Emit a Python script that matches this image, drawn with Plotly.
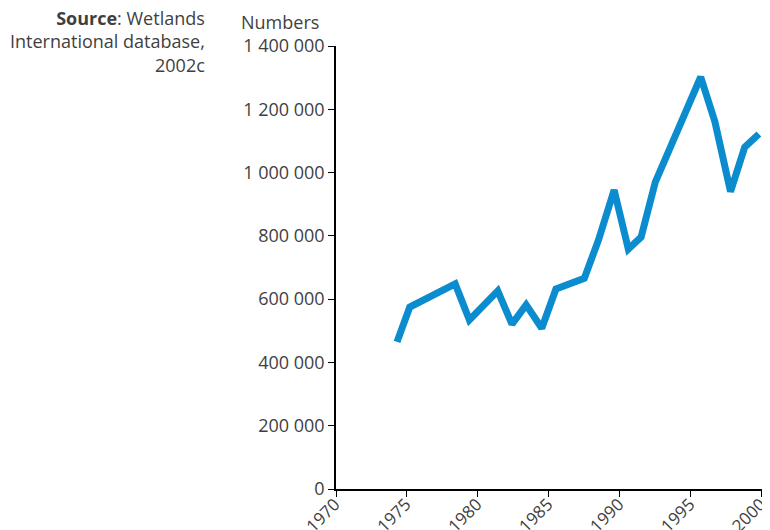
import plotly.graph_objects as go

years = [1974.3, 1975.2, 1978.4, 1979.4, 1981.4, 1982.4, 1983.4, 1984.5, 1985.5,
         1987.5, 1988.5, 1989.6, 1990.6, 1991.5, 1992.5, 1993.6, 1994.6, 1995.7,
         1996.7, 1997.8, 1998.8, 1999.8]
numbers = [465000, 575000, 648000, 534000, 626000, 521000, 582000, 508000, 632000,
           666000, 787000, 945000, 758000, 796000, 970000, 1078000, 1188000, 1302000,
           1161000, 940000, 1080000, 1122000]

y_ticks = [0, 200000, 400000, 600000, 800000, 1000000, 1200000, 1400000]
y_labels = ["0", "200 000", "400 000", "600 000", "800 000", "1 000 000", "1 200 000", "1 400 000"]
x_ticks = [1970, 1975, 1980, 1985, 1990, 1995, 2000]

font_family = "Open Sans, Lato, DejaVu Sans, sans-serif"
text_color = "#3f3f3f"
fs = 18

fig = go.Figure()
fig.add_trace(go.Scatter(x=years, y=numbers, mode="lines",
                         line=dict(color="#0a8ccf", width=7),
                         hoverinfo="skip", cliponaxis=False))

fig.update_layout(
    width=762, height=522,
    margin=dict(l=328, r=8, t=38, b=41, autoexpand=False),
    paper_bgcolor="white", plot_bgcolor="white",
    showlegend=False,
    font=dict(family=font_family, size=fs, color=text_color),
    xaxis=dict(range=[1970, 2000.02], tickvals=x_ticks, tickangle=-45,
               automargin=False, ticklabelstandoff=-9, ticklabelshift=-1,
               ticklabeloverflow="allow",
               showgrid=False, zeroline=False, showline=True, linecolor="black",
               linewidth=1.5, ticks="outside", ticklen=6, tickcolor="black",
               tickfont=dict(size=17, color=text_color)),
    yaxis=dict(range=[0, 1400000], tickvals=y_ticks, ticktext=y_labels,
               automargin=False, ticklabeloverflow="allow",
               showgrid=False, zeroline=False, showline=True, linecolor="black",
               linewidth=1.5, ticks="outside", ticklen=6, tickcolor="black",
               tickfont=dict(size=fs, color=text_color)),
    annotations=[
        dict(text="<b>Source</b>: Wetlands<br>International database,<br>2002c",
             xref="paper", yref="paper", x=-0.3021, y=1.095, xanchor="right",
             yanchor="top", align="right", showarrow=False,
             font=dict(size=fs, color=text_color)),
        dict(text="Numbers", xref="paper", yref="paper", x=-0.2268, y=1.054,
             xanchor="left", yanchor="middle", showarrow=False,
             font=dict(size=fs, color=text_color)),
    ],
)

fig.write_html("out.html")
